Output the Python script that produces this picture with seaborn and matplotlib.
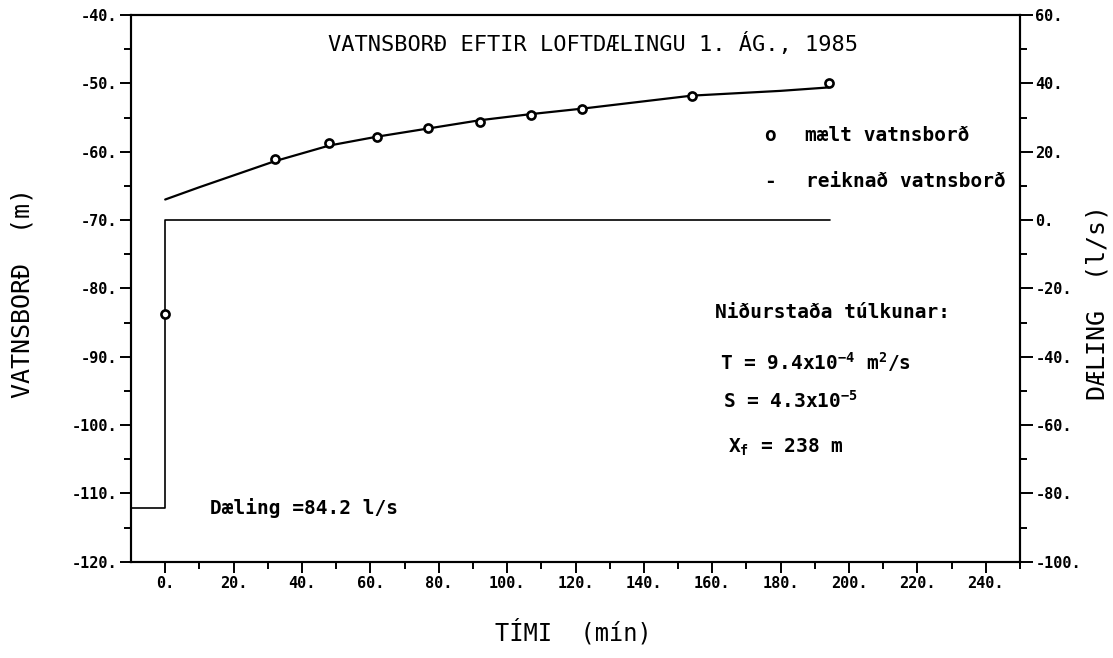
import matplotlib
matplotlib.use("Agg")
import matplotlib.pyplot as plt
from matplotlib.ticker import MultipleLocator, FuncFormatter
import seaborn as sns

# Measured water level after air-lift pumping (time in min, level in m)
obs_time = [0, 32, 48, 62, 77, 92, 107, 122, 154, 194]
obs_level = [-83.7, -61.0, -58.8, -57.8, -56.6, -55.6, -54.6, -53.8, -51.8, -49.9]

# Computed water level
calc_time = [0, 10, 32, 48, 62, 77, 92, 107, 122, 154, 180, 194]
calc_level = [-67.0, -65.2, -61.4, -59.1, -57.8, -56.6, -55.4, -54.5, -53.7, -51.8, -51.1, -50.6]

# Pumping rate (l/s)
pump_time = [-10, 0, 194.5]
pump_rate = [-84.2, 0, 0]

sns.set_theme(style="ticks")
plt.rcParams["font.family"] = ["DejaVu Sans Mono", "DejaVu Sans"]
plt.rcParams["font.weight"] = "bold"
plt.rcParams["mathtext.fontset"] = "custom"
plt.rcParams["mathtext.rm"] = "DejaVu Sans Mono:bold"
plt.rcParams["mathtext.it"] = "DejaVu Sans Mono:bold"
plt.rcParams["mathtext.bf"] = "DejaVu Sans Mono:bold"

W, H = 1113, 658
fig = plt.figure(figsize=(W / 100, H / 100), dpi=100)
fig.patch.set_facecolor("white")
ax = fig.add_axes([131 / W, 1 - 561.7 / H, 889 / W, 546.7 / H])
ax.set_facecolor("white")
ax2 = ax.twinx()

ink = "black"

sns.lineplot(x=calc_time, y=calc_level, ax=ax, color=ink, lw=1.6,
             sort=False, estimator=None)
sns.lineplot(x=pump_time, y=pump_rate, ax=ax2, color=ink, lw=1.2,
             sort=False, estimator=None, drawstyle="steps-post")
sns.scatterplot(x=obs_time, y=obs_level, ax=ax, marker="o", s=34,
                facecolor="white", edgecolor=ink, linewidth=1.9, zorder=5)
ax.set_zorder(ax2.get_zorder() + 1)
ax.patch.set_visible(False)

ax.set_xlim(-10, 250)
ax.set_ylim(-120, -40)
ax2.set_ylim(-100, 60)

fmt = FuncFormatter(lambda v, p: f"{int(round(v))}.")
ax.yaxis.set_major_locator(MultipleLocator(10))
ax.yaxis.set_minor_locator(MultipleLocator(5))
ax2.yaxis.set_major_locator(MultipleLocator(20))
ax2.yaxis.set_minor_locator(MultipleLocator(10))
ax.set_xticks(list(range(0, 241, 20)))
ax.set_xticks(list(range(10, 251, 20)), minor=True)
ax.xaxis.set_major_formatter(fmt)
ax.yaxis.set_major_formatter(fmt)
ax2.yaxis.set_major_formatter(fmt)

for a in (ax, ax2):
    for s in a.spines.values():
        s.set_visible(True)
        s.set_linewidth(1.5)
        s.set_color(ink)

ax.tick_params(axis="both", which="major", direction="out", length=8,
               width=1.4, color=ink, labelsize=11, pad=2, labelcolor=ink)
ax.tick_params(axis="both", which="minor", direction="out", length=5,
               width=1.4, color=ink)
ax.tick_params(axis="y", right=False, which="both")
ax.tick_params(axis="x", top=False, which="both")
ax2.tick_params(axis="y", which="major", direction="out", length=9,
                width=1.4, color=ink, labelsize=11, pad=2, labelcolor=ink)
ax2.tick_params(axis="y", which="minor", direction="out", length=5,
                width=1.4, color=ink)

ax.set_xlabel("")
ax.set_ylabel("")
ax2.set_ylabel("")

# Axis titles
fig.text(22.5 / W, 1 - 293 / H, "VATNSBORÐ  (m)", rotation=90, ha="center",
         va="center", fontsize=18, fontweight="normal", color=ink)
fig.text(1097 / W, 1 - 303 / H, "DÆLING  (l/s)", rotation=90, ha="center",
         va="center", fontsize=18, fontweight="normal", color=ink)
fig.text(573 / W, 1 - 632 / H, "TÍMI  (mín)", ha="center", va="center",
         fontsize=17, fontweight="normal", color=ink)

# Chart title inside the frame
ax.text(47.7, -44.1, "VATNSBORÐ EFTIR LOFTDÆLINGU 1. ÁG., 1985", ha="left",
        va="center", fontsize=15.8, fontweight="normal", color=ink)

# Key
ax.text(176.9, -57.6, "o", ha="center", va="center", fontsize=14, color=ink)
ax.text(187.1, -57.6, "mælt vatnsborð", ha="left", va="center", fontsize=14,
        color=ink)
ax.text(176.9, -64.3, "-", ha="center", va="center", fontsize=14, color=ink)
ax.text(187.4, -64.3, "reiknað vatnsborð", ha="left", va="center",
        fontsize=14, color=ink)

# Interpretation results
ax.text(160.8, -83.6, "Niðurstaða túlkunar:", ha="left", va="center",
        fontsize=14, color=ink)
ax.text(162.3, -90.8, r"T = 9.4x10$^{\mathrm{-4}}$ m$^{\mathrm{2}}$/s",
        ha="left", va="center", fontsize=14, color=ink)
ax.text(163.2, -96.4, r"S = 4.3x10$^{\mathrm{-5}}$", ha="left", va="center",
        fontsize=14, color=ink)
ax.text(164.6, -103.2, r"X$_{\mathrm{f}}$ = 238 m", ha="left", va="center",
        fontsize=14, color=ink)

ax.text(13.2, -112.2, "Dæling =84.2 l/s", ha="left", va="center",
        fontsize=14, color=ink)

fig.savefig("out.png", dpi=100, facecolor="white")
